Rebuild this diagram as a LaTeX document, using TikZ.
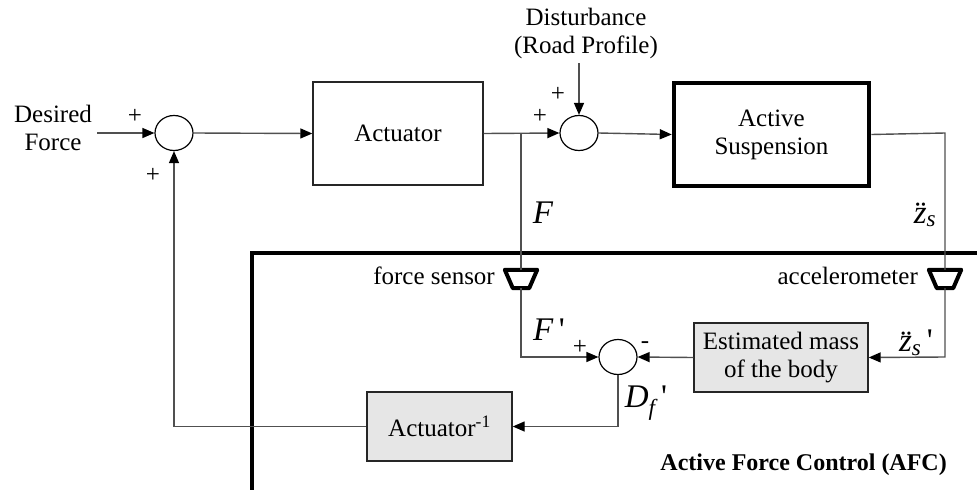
\documentclass[tikz,border=0pt]{standalone}
\usepackage{fontspec}
\setmainfont{Liberation Serif}
\usetikzlibrary{arrows.meta,shapes.geometric,calc}
\definecolor{linegray}{HTML}{505050}
\definecolor{boxgray}{HTML}{E6E6E6}
\begin{document}
\begin{tikzpicture}[x=1pt,y=-1pt,
  every node/.style={font=\fontsize{25}{28}\selectfont},
  conn/.style={draw=linegray, line width=1.4pt},
  arr/.style={conn,-{Triangle[length=12pt,width=10pt,color=black]}},
  sumnode/.style={ellipse, draw=black, line width=1.2pt, minimum width=38pt, minimum height=35pt, inner sep=0pt},
  blk/.style={rectangle, draw=black!85, line width=1.4pt, align=center, inner sep=0pt},
  gblk/.style={blk, fill=boxgray},
  heavy/.style={rectangle, draw=black, line width=4.5pt, align=center, inner sep=0pt},
  sensor/.style={rectangle, minimum width=32pt, minimum height=18pt, inner sep=0pt},
  sensorline/.style={draw=black, line width=4pt, line join=round},
  lbl/.style={inner sep=0pt},
  mlbl/.style={inner sep=0pt, font=\fontsize{33}{36}\selectfont\itshape},
  afc/.style={line width=4.5pt, draw=black}
]
\useasboundingbox (0,0) rectangle (977,490);

% blocks
\node[blk, minimum width=170pt, minimum height=103pt] (act) at (398,133.5) {Actuator};
\node[heavy, minimum width=195pt, minimum height=103pt] (sus) at (771.5,134.5) {Active\\Suspension};
\node[gblk, minimum width=174pt, minimum height=69pt] (est) at (781,357.5) {Estimated mass\\of the body};
\node[gblk, minimum width=145pt, minimum height=69pt] (ainv) at (439.5,426.5) {Actuator\textsuperscript{-1}};

% summing junctions
\node[sumnode] (s1) at (174,133) {};
\node[sumnode] (s2) at (579,133) {};
\node[sumnode] (s3) at (618,357) {};

% sensors
\node[sensor] (fs) at (521,279) {};
\node[sensor] (acc) at (945,279) {};
\draw[sensorline] (fs.north west) -- (fs.north east) -- ($(fs.south east)+(-8,0)$) -- ($(fs.south west)+(8,0)$) -- cycle;
\draw[sensorline] (acc.north west) -- (acc.north east) -- ($(acc.south east)+(-8,0)$) -- ($(acc.south west)+(8,0)$) -- cycle;

% texts
\node[lbl, align=center] (des) at (53,128) {Desired\\Force};
\node[lbl, align=center] (dist) at (586,33) {Disturbance\\(Road Profile)};
\node[lbl, anchor=east] (fstxt) at (495,276) {force sensor};
\node[lbl, anchor=east] (acctxt) at (918,276) {accelerometer};
\node[lbl, anchor=east, font=\fontsize{24}{27}\selectfont\bfseries] (afctxt) at (947,465) {Active Force Control (AFC)};

% signs
\node[lbl] (p1) at (135,116) {+};
\node[lbl] (p2) at (153,175) {+};
\node[lbl] (p3) at (558,94) {+};
\node[lbl] (p4) at (540,116) {+};
\node[lbl] (p5) at (580,347) {+};
\node[lbl] (m1) at (645,345) {-};

% signal labels
\node[mlbl] (lF) at (543,213) {F};
\node[mlbl] (lz) at (925,215) {\"{z}\textsubscript{s}};
\node[mlbl] (lFp) at (549,330) {F\,\upshape\textquotesingle};
\node[mlbl] (lzp) at (916,343) {\"{z}\textsubscript{s}\,\upshape\textquotesingle};
\node[mlbl] (lD) at (646,403) {D\textsubscript{f}\,\upshape\textquotesingle};

% coordinates
\coordinate (din) at (97,133);
\coordinate (dtop) at (579,63);
\coordinate (br) at (521,133);
\coordinate (acor) at (945,133);
\coordinate (acbot) at (945,357);
\coordinate (afcA) at (977,253);
\coordinate (afcB) at (252,253);
\coordinate (afcC) at (252,490);

% AFC boundary
\draw[afc] (afcA) -- (afcB) -- (afcC);

% connectors
\draw[arr] (din) -- (s1.west);
\draw[arr] (s1.east) -- (act.west);
\draw[arr] (act.east) -- (s2.west);
\draw[arr] (dtop) -- (s2.north);
\draw[arr] (s2.east) -- (sus.west);
\draw[conn] (sus.east) -- (acor) -- (acc.north);
\draw[arr] (acc.south) -- (acbot) -- (est.east);
\draw[conn] (br) -- (fs.north);
\draw[arr] (fs.south) |- (s3.west);
\draw[arr] (est.west) -- (s3.east);
\draw[arr] (s3.south) |- (ainv.east);
\draw[arr] (ainv.west) -| (s1.south);
\end{tikzpicture}
\end{document}
